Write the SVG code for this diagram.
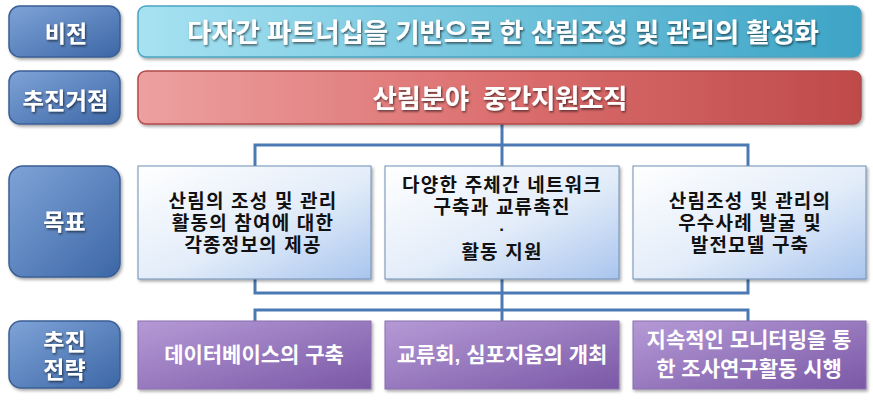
<svg xmlns="http://www.w3.org/2000/svg" width="873" height="400" viewBox="0 0 873 400">
<defs>
<linearGradient id="gLab" x1="0" y1="0" x2="1" y2="1"><stop offset="0" stop-color="#7fa3d8"/><stop offset="1" stop-color="#3c67a6"/></linearGradient>
<linearGradient id="gVis" x1="0" y1="0" x2="1" y2="0"><stop offset="0" stop-color="#a6e2f2"/><stop offset="1" stop-color="#3da4c6"/></linearGradient>
<linearGradient id="gRed" x1="0" y1="0" x2="1" y2="0"><stop offset="0" stop-color="#eda0a0"/><stop offset="0.5" stop-color="#dc6f6f"/><stop offset="1" stop-color="#bf4a4a"/></linearGradient>
<linearGradient id="gGoal" x1="0" y1="0" x2="1" y2="1"><stop offset="0" stop-color="#ffffff"/><stop offset="0.55" stop-color="#e2ecf9"/><stop offset="1" stop-color="#a9c5ee"/></linearGradient>
<linearGradient id="gStr" x1="0" y1="0" x2="1" y2="1"><stop offset="0" stop-color="#b59ad6"/><stop offset="1" stop-color="#7a58a6"/></linearGradient>
<filter id="sh" x="-5%" y="-10%" width="112%" height="130%"><feDropShadow dx="1.5" dy="2" stdDeviation="1.5" flood-color="#000" flood-opacity="0.35"/></filter>
<filter id="ts" x="-5%" y="-20%" width="110%" height="140%"><feDropShadow dx="1" dy="1.5" stdDeviation="0.8" flood-color="#000" flood-opacity="0.6"/></filter>
</defs>
<style>
text{font-family:"Liberation Sans","Noto Sans CJK KR",sans-serif;font-weight:bold;text-anchor:middle}
.lab rect{fill:url(#gLab);stroke:#3a5f95;stroke-width:1.5;filter:url(#sh)}
.lab text{fill:#fff;font-size:23px;filter:url(#ts)}
.vis{fill:url(#gVis);stroke:#4aa5c2;stroke-width:1.5;filter:url(#sh)}
.red{fill:url(#gRed);stroke:#b34a4a;stroke-width:1.5;filter:url(#sh)}
.big{fill:#fff;font-size:26.5px;filter:url(#ts)}
.goal rect{fill:url(#gGoal);stroke:#6f8fb5;stroke-width:1;filter:url(#sh)}
.goal text{fill:#111;font-size:19px;letter-spacing:1.2px}
.goal .dot{font-size:17px;letter-spacing:0}
.str rect{fill:url(#gStr);stroke:#8a6fb0;stroke-width:1;filter:url(#sh)}
.str text{fill:#fff;font-size:21px}
.con{fill:none;stroke:#4b79b4;stroke-width:3}
</style>
<g id="connectors" class="con">
<path d="M502 124V166M255 166V145H748V166"/>
<path d="M502 279V322M255 279V293H748V279M255 322V310H748V322"/>
</g>
<g id="lab1" class="lab"><rect x="9" y="6" width="111" height="51" rx="11"/><text x="66" y="42">비전</text></g>
<g id="lab2" class="lab"><rect x="9" y="71" width="111" height="53" rx="11"/><text x="65.5" y="109" textLength="86" lengthAdjust="spacingAndGlyphs">추진거점</text></g>
<g id="lab3" class="lab"><rect x="9" y="166" width="111" height="111" rx="14"/><text x="64.5" y="230">목표</text></g>
<g id="lab4" class="lab"><rect x="9" y="321" width="111" height="67" rx="12"/><text x="64.5" y="350">추진</text><text x="64.5" y="378">전략</text></g>
<g id="vision"><rect class="vis" x="138" y="6" width="723" height="51" rx="8"/><text class="big" x="503" y="42" textLength="632">다자간 파트너십을 기반으로 한 산림조성 및 관리의 활성화</text></g>
<g id="base"><rect class="red" x="138" y="71" width="723" height="53" rx="8"/><text class="big" x="500" y="108" xml:space="preserve" textLength="255">산림분야  중간지원조직</text></g>
<g id="goal1" class="goal"><rect x="138" y="166" width="233" height="113"/><text x="253" y="208">산림의 조성 및 관리</text><text x="253" y="230">활동의 참여에 대한</text><text x="253" y="252">각종정보의 제공</text></g>
<g id="goal2" class="goal"><rect x="385" y="166" width="234" height="113"/><text x="502" y="192">다양한 주체간 네트워크</text><text x="502" y="214">구축과 교류촉진</text><text class="dot" x="502" y="235">·</text><text x="502" y="259">활동 지원</text></g>
<g id="goal3" class="goal"><rect x="633" y="166" width="233" height="113"/><text x="750" y="208">산림조성 및 관리의</text><text x="750" y="230">우수사례 발굴 및</text><text x="750" y="252">발전모델 구축</text></g>
<g id="str1" class="str"><rect x="138" y="321" width="233" height="68"/><text x="254" y="362">데이터베이스의 구축</text></g>
<g id="str2" class="str"><rect x="385" y="321" width="234" height="68"/><text x="502" y="362">교류회, 심포지움의 개최</text></g>
<g id="str3" class="str"><rect x="633" y="321" width="233" height="68"/><text x="749" y="347">지속적인 모니터링을 통</text><text x="749" y="376">한 조사연구활동 시행</text></g>
</svg>
